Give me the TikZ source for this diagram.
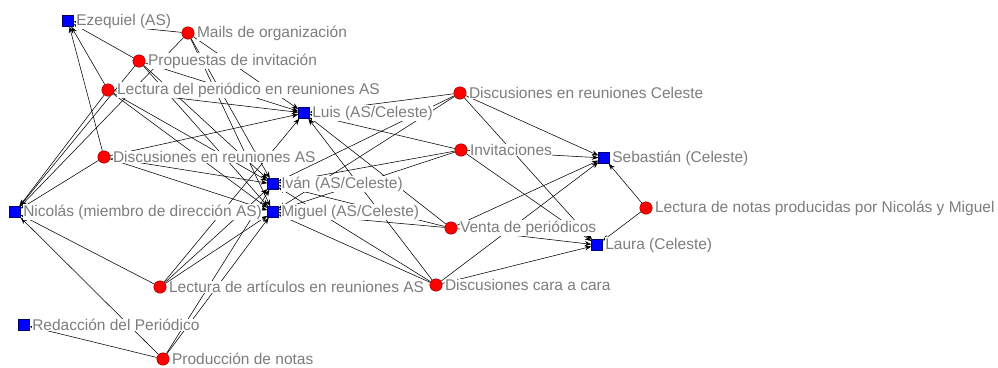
\documentclass[tikz,border=0pt]{standalone}
\usepackage{fontspec}
\setmainfont{Liberation Sans}
\usetikzlibrary{arrows.meta}
\definecolor{lblgray}{RGB}{125,125,125}
\definecolor{nblue}{RGB}{0,0,255}
\definecolor{nred}{RGB}{255,0,0}
\pgfdeclarelayer{edges}
\pgfdeclarelayer{labels}
\pgfsetlayers{edges,labels,main}
\begin{document}
\begin{tikzpicture}[x=1pt,y=-1pt,
  actor/.style={rectangle,draw=black!60!blue,fill=nblue,minimum size=11pt,inner sep=0pt,line width=0.4pt},
  practice/.style={circle,draw=black!50!red,fill=nred,minimum size=12.5pt,inner sep=0pt,line width=0.4pt},
  lbl/.style={anchor=west,fill=white,inner sep=0.4pt,text=lblgray,font=\fontsize{15.5}{17}\selectfont},
  tie/.style={-{Stealth[length=6.5pt,width=5pt]},line width=0.55pt,black}]
\useasboundingbox (0,0) rectangle (998,367);
% actors
\node[actor] (ez) at (68,21) {};
\node[actor] (luis) at (304,113) {};
\node[actor] (seb) at (604,158) {};
\node[actor] (ivan) at (273,184) {};
\node[actor] (nic) at (15,212) {};
\node[actor] (mig) at (273,212) {};
\node[actor] (lau) at (597,245) {};
\node[actor] (red) at (24,325) {};
% practices
\node[practice] (mails) at (188,33) {};
\node[practice] (prop) at (139,61) {};
\node[practice] (lper) at (108,90) {};
\node[practice] (dcel) at (460,93) {};
\node[practice] (das) at (104,157) {};
\node[practice] (inv) at (461,150) {};
\node[practice] (venta) at (451,228) {};
\node[practice] (lnot) at (646,208) {};
\node[practice] (lart) at (160,287) {};
\node[practice] (dcc) at (436,285) {};
\node[practice] (prod) at (163,359) {};
% labels
\begin{pgfonlayer}{labels}
\node[lbl] (tez) at ([xshift=2pt]ez.east) {Ezequiel (AS)};
\node[lbl] (tluis) at ([xshift=2pt]luis.east) {Luis (AS/Celeste)};
\node[lbl] (tseb) at ([xshift=2pt]seb.east) {Sebastián (Celeste)};
\node[lbl] (tivan) at ([xshift=2pt]ivan.east) {Iván (AS/Celeste)};
\node[lbl] (tnic) at ([xshift=2pt]nic.east) {Nicolás (miembro de dirección AS)};
\node[lbl] (tmig) at ([xshift=2pt]mig.east) {Miguel (AS/Celeste)};
\node[lbl] (tlau) at ([xshift=2pt]lau.east) {Laura (Celeste)};
\node[lbl] (tred) at ([xshift=2pt]red.east) {Redacción del Periódico};
\node[lbl] (tmails) at ([xshift=2pt]mails.east) {Mails de organización};
\node[lbl] (tprop) at ([xshift=2pt]prop.east) {Propuestas de invitación};
\node[lbl] (tlper) at ([xshift=2pt]lper.east) {Lectura del periódico en reuniones AS};
\node[lbl] (tdcel) at ([xshift=2pt]dcel.east) {Discusiones en reuniones Celeste};
\node[lbl] (tdas) at ([xshift=2pt]das.east) {Discusiones en reuniones AS};
\node[lbl] (tinv) at ([xshift=2pt]inv.east) {Invitaciones};
\node[lbl] (tventa) at ([xshift=2pt]venta.east) {Venta de periódicos};
\node[lbl] (tlnot) at ([xshift=2pt]lnot.east) {Lectura de notas producidas por Nicolás y Miguel};
\node[lbl] (tlart) at ([xshift=2pt]lart.east) {Lectura de artículos en reuniones AS};
\node[lbl] (tdcc) at ([xshift=2pt]dcc.east) {Discusiones cara a cara};
\node[lbl] (tprod) at ([xshift=2pt]prod.east) {Producción de notas};
\end{pgfonlayer}
% ties
\begin{pgfonlayer}{edges}
\foreach \p in {mails,prop,lper,das}{
  \foreach \a in {ez,nic,luis,ivan,mig}{\draw[tie] (\p) -- (\a);}
}
\foreach \a in {nic,luis,ivan,mig}{\draw[tie] (lart) -- (\a);}
\foreach \a in {red,nic,ivan,mig}{\draw[tie] (prod) -- (\a);}
\foreach \p in {dcel,inv,venta,dcc}{
  \foreach \a in {luis,ivan,mig,seb,lau}{\draw[tie] (\p) -- (\a);}
}
\foreach \a in {seb,lau}{\draw[tie] (lnot) -- (\a);}
\end{pgfonlayer}
\end{tikzpicture}
\end{document}
